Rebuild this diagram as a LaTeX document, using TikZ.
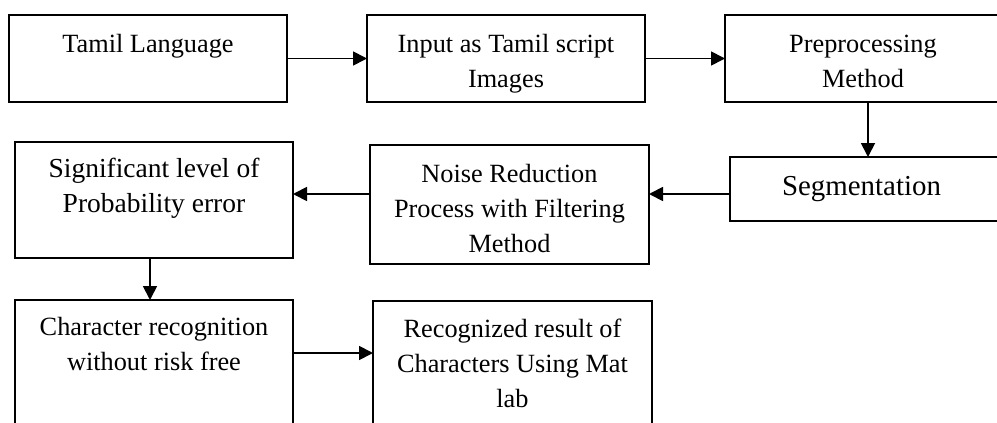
\documentclass[tikz,border=0pt]{standalone}
\usepackage{fontspec}
\setmainfont{Liberation Serif}
\usetikzlibrary{arrows.meta}
\begin{document}
\begin{tikzpicture}[x=1pt,y=-1pt,
  boxst/.style={draw,line width=1.8pt,rectangle,inner sep=0pt,outer sep=0pt},
  txt/.style={inner sep=0pt,anchor=north,align=center,font=\fontsize{26.3}{35}\selectfont},
  arr/.style={line width=1.8pt,-{Triangle[length=14pt,width=14pt]}}]
\useasboundingbox (0,0) rectangle (997,423);
\fill[white] (0,0) rectangle (997,423);
\begin{scope}
\clip (0,0) rectangle (997,423);
\node[boxst,minimum width=278pt,minimum height=87pt] (b1) at (148,58.5) {};
\node[boxst,minimum width=278pt,minimum height=87pt] (b2) at (506,58.5) {};
\node[boxst,minimum width=286pt,minimum height=87pt] (b3) at (868,58.5) {};
\node[boxst,minimum width=276pt,minimum height=64pt] (b4) at (868,189) {};
\node[boxst,minimum width=279pt,minimum height=119pt] (b5) at (509.5,204.5) {};
\node[boxst,minimum width=278pt,minimum height=116pt] (b6) at (154,200) {};
\node[boxst,minimum width=278pt,minimum height=160pt] (b7) at (154,380) {};
\node[boxst,minimum width=279pt,minimum height=160pt] (b8) at (512.5,381) {};
\end{scope}
\node[txt] (t1) at (148,27.5) {\strut Tamil Language};
\node[txt] (t2) at (506,27.5) {\strut Input as Tamil script\\\strut Images};
\node[txt] (t3) at (863,27.5) {\strut Preprocessing\\\strut Method};
\node[txt,font=\fontsize{28.9}{35}\selectfont] (t4) at (861.5,170.5) {\strut Segmentation};
\node[txt] (t5) at (509.5,157.5) {\strut Noise Reduction\\\strut Process with Filtering\\\strut Method};
\node[txt,font=\fontsize{27.5}{35}\selectfont] (t6) at (154,152.5) {\strut Significant level of\\\strut Probability error};
\node[txt] (t7) at (154,310.5) {\strut Character recognition\\\strut without risk free};
\node[txt] (t8) at (512.5,312.5) {\strut Recognized result of\\\strut Characters Using Mat\\\strut lab};
\coordinate (ya) at (0,194);
\coordinate (xa) at (150,0);
\coordinate (yb) at (0,353);
\draw[arr] (b1.east) -- (b2.west);
\draw[arr] (b2.east) -- (b3.west);
\draw[arr] (b3.south) -- (b4.north);
\draw[arr] (b4.west |- ya) -- (b5.east |- ya);
\draw[arr] (b5.west |- ya) -- (b6.east |- ya);
\draw[arr] (b6.south -| xa) -- (b7.north -| xa);
\draw[arr] (b7.east |- yb) -- (b8.west |- yb);
\end{tikzpicture}
\end{document}
